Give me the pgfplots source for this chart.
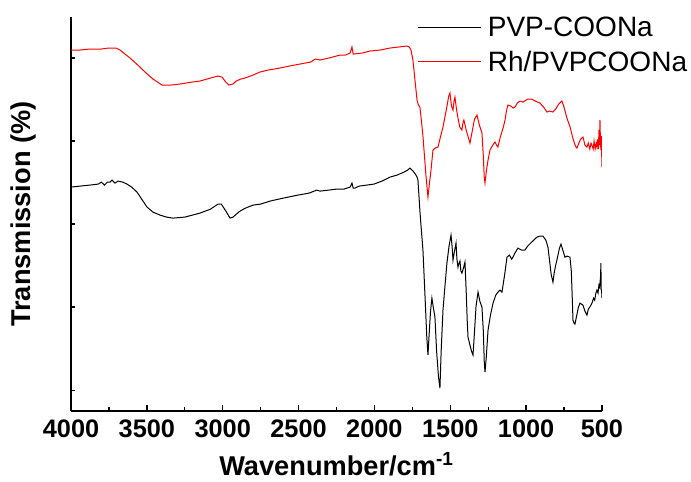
\documentclass[border=0pt]{standalone}
\usepackage{pgfplots}
\usepackage{fontspec}
\setmainfont{Liberation Sans}
\pgfplotsset{compat=1.18}

% FTIR spectra; y values are arbitrary transmission units
\pgfplotstableread{
w y
4000 224
3940 225
3875 226
3820 227
3800 229
3780 226
3760 229
3743 229
3730 231
3710 228
3690 230
3660 229
3631 227
3600 224
3565 219
3530 211
3499 204
3460 199
3413 196
3370 194
3328 193
3250 194
3150 198
3080 202
3031 207
3010 207
3005 206
2975 199
2952 193
2932 194
2910 197
2886 200
2850 203
2800 206
2750 207
2688 210
2600 213
2504 216
2430 218
2380 221
2359 220
2300 221
2250 222
2201 222
2160 224
2148 228
2140 223
2128 223
2100 225
2050 226
2003 227
1950 230
1897 234
1850 236
1805 239
1780 241
1766 243
1745 240
1730 237
1719 234
1713 231
1700 200
1690 180
1680 161
1665 110
1655 75
1647 56
1638 80
1630 100
1621 113
1612 104
1601 94
1590 60
1578 35
1568 23
1560 60
1548 101
1535 125
1522 148
1508 165
1495 176
1488 165
1482 151
1472 160
1462 168
1456 152
1449 144
1442 148
1436 150
1430 140
1423 138
1413 143
1403 149
1395 120
1388 90
1383 74
1370 66
1360 60
1350 56
1340 80
1330 105
1317 119
1305 110
1291 104
1282 80
1276 50
1271 39
1262 55
1251 81
1235 96
1218 108
1200 116
1186 119
1172 121
1159 119
1140 138
1126 154
1110 156
1095 152
1087 154
1070 159
1054 163
1030 161
1008 161
990 165
970 168
950 171
929 174
910 175
889 175
870 171
856 164
845 150
835 137
823 129
815 138
805 146
797 151
780 163
770 167
758 161
744 154
730 155
711 154
702 140
695 110
691 91
684 88
678 87
666 96
655 104
645 108
635 107
625 106
612 100
599 96
590 102
580 104
566 108
555 113
548 111
540 118
533 121
526 118
520 126
515 124
513 128
509 135
507 148
505 122
502 120
500 113
}\pvp

\pgfplotstableread{
w y
4000 361
3940 361
3875 362
3800 362
3750 363
3703 363
3677 361
3645 357
3611 353
3560 346
3512 339
3460 332
3400 326
3340 326
3282 327
3200 329
3150 330
3080 333
3031 335
3005 334
2980 329
2959 326
2932 327
2912 330
2880 332
2853 333
2800 336
2754 339
2700 341
2622 343
2560 345
2490 347
2420 349
2390 352
2358 351
2300 353
2250 355
2227 356
2190 356
2160 358
2148 364
2140 357
2135 357
2080 358
2029 360
1960 361
1897 363
1840 364
1785 365
1770 364
1759 361
1746 351
1732 330
1719 311
1710 306
1700 304
1690 290
1680 275
1673 261
1660 235
1647 214
1637 228
1627 241
1614 261
1600 263
1581 264
1565 274
1548 284
1525 302
1510 315
1502 318
1492 305
1482 301
1475 310
1469 314
1460 303
1449 293
1437 284
1423 281
1417 288
1410 291
1395 281
1380 273
1370 268
1355 280
1340 292
1324 296
1308 286
1291 278
1282 255
1276 234
1271 228
1262 240
1251 251
1238 261
1220 266
1205 269
1195 266
1186 264
1170 274
1150 284
1139 291
1130 300
1120 306
1100 305
1085 303
1073 304
1058 308
1040 310
1020 309
1000 311
988 312
965 312
940 310
909 308
885 304
863 299
845 300
823 299
805 302
785 307
764 310
750 304
731 293
710 284
690 272
675 265
665 263
652 268
640 272
625 274
612 266
599 264
590 268
580 262
572 268
566 266
558 262
552 270
545 262
538 268
533 264
527 272
523 262
520 281
517 266
513 291
510 270
507 261
504 275
500 244
}\rh

\begin{document}
\begin{tikzpicture}
\begin{axis}[
  scale only axis,
  width=398pt, height=295.5pt,
  x dir=reverse,
  xmin=500, xmax=4000,
  ymin=0, ymax=394,
  axis x line*=bottom, axis y line*=left,
  axis line style={line width=1.2pt, -},
  every tick/.style={black, line width=1pt},
  tick align=inside,
  xtick={500,1000,...,4000},
  minor x tick num=1,
  major tick length=5pt,
  minor tick length=3pt,
  ytick={1000},
  yticklabels={},
  minor ytick={21,104,187,270,353},
  /pgf/number format/assume math mode=true,
  /pgf/number format/1000 sep={},
  xticklabel style={font=\fontsize{19}{22}\selectfont\bfseries, yshift=-3pt},
  xlabel={\textbf{Wavenumber/cm\textsuperscript{-1}}},
  ylabel={\textbf{Transmission (\%)}},
  every axis x label/.style={at={(rel axis cs:0.5,0)}, anchor=base, yshift=-48pt,
    font=\fontsize{20.4}{24}\selectfont},
  every axis y label/.style={at={(rel axis cs:0,0.5)}, rotate=90, anchor=center,
    yshift=36pt, font=\fontsize{20.4}{24}\selectfont},
  legend style={draw=none, fill=none,
    font=\fontsize{21}{24}\selectfont,
    at={(rel axis cs:0.652,1.007)}, anchor=north west,
    inner sep=0pt, row sep=5pt},
  legend cell align=left,
  legend image code/.code={\draw[#1] (0pt,0pt) -- (47pt,0pt); \path (50pt,0pt);},
]
\coordinate (sw) at (rel axis cs:0,0);
\coordinate (ne) at (rel axis cs:1,1);
\addplot[black, line width=0.75pt] table[x=w, y=y] {\pvp};
\addlegendentry{PVP-COONa}
\addplot[red, line width=0.75pt] table[x=w, y=y] {\rh};
\addlegendentry{Rh/PVPCOONa}
\end{axis}
\pgfresetboundingbox
\useasboundingbox ([xshift=-53.25pt, yshift=-52.5pt]sw) rectangle ([xshift=66.75pt, yshift=12.75pt]ne);
\end{tikzpicture}
\end{document}
